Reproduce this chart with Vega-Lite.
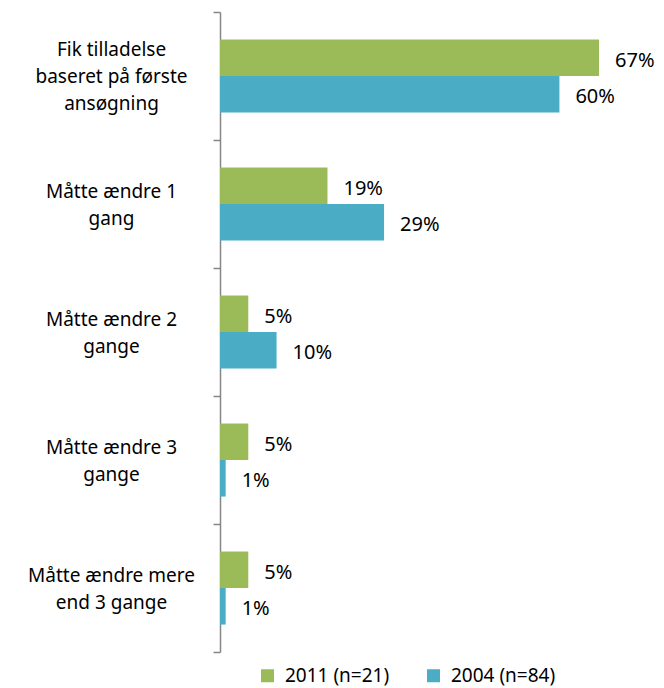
{
  "$schema": "https://vega.github.io/schema/vega-lite/v6.json",
  "width": 396,
  "height": 640,
  "autosize": {"type": "none"},
  "padding": {"left": 220, "top": 12, "right": 48, "bottom": 36},
  "background": "white",
  "config": {"view": {"stroke": null}, "font": "Noto Sans"},
  "data": {
    "values": [
      {"kategori": "Fik tilladelse|baseret på første|ansøgning", "serie": "2011 (n=21)", "andel": 0.67},
      {"kategori": "Fik tilladelse|baseret på første|ansøgning", "serie": "2004 (n=84)", "andel": 0.60},
      {"kategori": "Måtte ændre 1|gang", "serie": "2011 (n=21)", "andel": 0.19},
      {"kategori": "Måtte ændre 1|gang", "serie": "2004 (n=84)", "andel": 0.29},
      {"kategori": "Måtte ændre 2|gange", "serie": "2011 (n=21)", "andel": 0.05},
      {"kategori": "Måtte ændre 2|gange", "serie": "2004 (n=84)", "andel": 0.10},
      {"kategori": "Måtte ændre 3|gange", "serie": "2011 (n=21)", "andel": 0.05},
      {"kategori": "Måtte ændre 3|gange", "serie": "2004 (n=84)", "andel": 0.01},
      {"kategori": "Måtte ændre mere|end 3 gange", "serie": "2011 (n=21)", "andel": 0.05},
      {"kategori": "Måtte ændre mere|end 3 gange", "serie": "2004 (n=84)", "andel": 0.01}
    ]
  },
  "encoding": {
    "y": {
      "field": "kategori",
      "type": "nominal",
      "sort": null,
      "scale": {"paddingInner": 0, "paddingOuter": 0},
      "axis": {
        "title": null,
        "labelExpr": "split(datum.label, '|')",
        "labelAlign": "center",
        "labelBaseline": "middle",
        "labelPadding": 102,
        "labelOffset": {"expr": "-(length(split(datum.value, '|')) - 1) * 13.5 + 1"},
        "labelFontSize": 19,
        "labelColor": "#000000",
        "labelLineHeight": 27,
        "labelLimit": 300,
        "bandPosition": 1,
        "tickExtra": true,
        "tickSize": 7,
        "tickColor": "#868686",
        "tickWidth": 1.5,
        "domainColor": "#868686",
        "domainWidth": 1.5
      }
    },
    "yOffset": {
      "field": "serie",
      "type": "nominal",
      "scale": {"domain": ["2011 (n=21)", "2004 (n=84)"], "paddingInner": 0, "paddingOuter": 0.75}
    },
    "x": {
      "field": "andel",
      "type": "quantitative",
      "scale": {"domain": [0, 0.7], "nice": false},
      "axis": null
    }
  },
  "layer": [
    {
      "mark": {"type": "bar"},
      "encoding": {
        "color": {
          "field": "serie",
          "type": "nominal",
          "scale": {"domain": ["2011 (n=21)", "2004 (n=84)"], "range": ["#9BBB59", "#4BACC6"]},
          "legend": {
            "title": null,
            "orient": "none",
            "direction": "horizontal",
            "legendX": 38,
            "legendY": 654,
            "symbolType": "square",
            "symbolSize": 169,
            "symbolStrokeWidth": 0,
            "labelFontSize": 19,
            "labelColor": "#000000",
            "labelOffset": 8,
            "columnPadding": 34
          }
        }
      }
    },
    {
      "mark": {"type": "text", "align": "left", "baseline": "middle", "dx": 16, "dy": 3, "fontSize": 20, "color": "#000000"},
      "encoding": {
        "text": {"field": "andel", "type": "quantitative", "format": ".0%"}
      }
    }
  ]
}
